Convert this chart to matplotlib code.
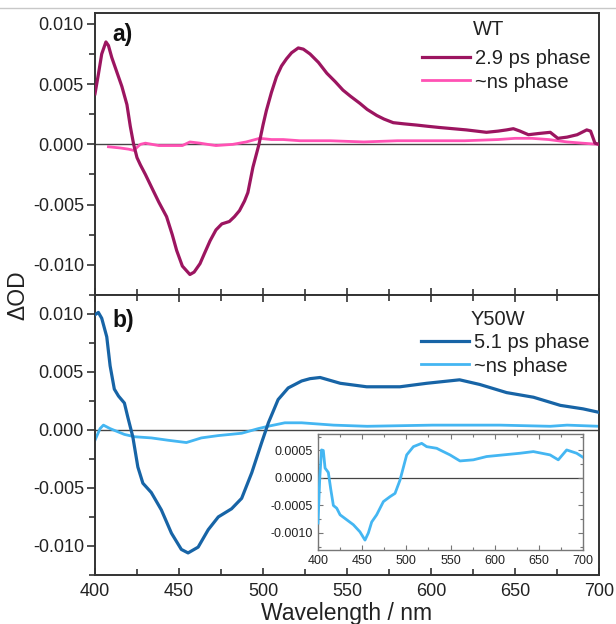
import matplotlib
matplotlib.use("Agg")
import matplotlib.pyplot as plt
from matplotlib.ticker import MultipleLocator
from matplotlib.lines import Line2D

plt.rcParams['font.family'] = ['Liberation Sans', 'DejaVu Sans']

# ---- data ----
wt_fast_x = [400, 402, 404, 406.5, 408, 410, 413, 416, 419, 421, 423, 425, 427, 430, 434.5, 438,
             442.6, 446, 448.6, 452, 456.5, 459, 462.5, 465, 468.5, 472, 475.5, 480, 483, 486,
             489, 491, 494, 497.6, 500, 502, 505, 508, 511, 514, 517, 521, 524, 528, 533, 538,
             543, 547.6, 552, 557.7, 562, 567.7, 572, 577.5, 584, 591.5, 598, 605, 613, 621,
             627, 633, 640, 645, 649, 653, 658, 664, 671, 675.5, 681, 687, 692.7, 695, 697.6, 700]
wt_fast_y = [0.0042, 0.0058, 0.0075, 0.0085, 0.0082, 0.0072, 0.0060, 0.0048, 0.0033, 0.0015,
             0.0, -0.0011, -0.0017, -0.0025, -0.0038, -0.0048, -0.0060, -0.0075, -0.0088,
             -0.0101, -0.0108, -0.0106, -0.0099, -0.0091, -0.0080, -0.0071, -0.0066, -0.0064,
             -0.0060, -0.0055, -0.0047, -0.0040, -0.0019, 0.0, 0.0016, 0.0028, 0.0043, 0.0056,
             0.0065, 0.0071, 0.0076, 0.0080, 0.0079, 0.0075, 0.0068, 0.0059, 0.0052, 0.0045,
             0.0040, 0.0034, 0.0029, 0.0024, 0.0021, 0.0018, 0.0017, 0.0016, 0.0015, 0.0014,
             0.0013, 0.0012, 0.0011, 0.0010, 0.0011, 0.0012, 0.0013, 0.0011, 0.0008, 0.0009,
             0.0010, 0.0005, 0.0006, 0.0008, 0.0012, 0.0011, 0.0001, 0.0]

wt_slow_x = [408, 415, 420, 423, 427, 430, 438, 445, 452, 456.5, 462.5, 467, 472, 482, 490,
             498, 505, 512, 522, 540, 560, 580, 600, 620, 640, 650, 660, 670, 681, 690, 700]
wt_slow_y = [-0.0002, -0.0003, -0.0004, -0.0005, 0.0, 0.0001, -0.0001, -0.0001, -0.0001,
             0.0002, 0.0001, 0.0, -0.0001, 0.0, 0.0002, 0.0005, 0.0004, 0.0004, 0.0003,
             0.0003, 0.0002, 0.0003, 0.0003, 0.0003, 0.0004, 0.0005, 0.0005, 0.0004, 0.0002,
             0.0001, 0.0]

y50w_fast_x = [400, 402, 404, 407, 409, 411.5, 414, 417.5, 419.5, 422.5, 425.5, 428.5, 433.5,
               439.5, 445.5, 451.4, 455.4, 461.4, 467.4, 473.4, 481.3, 487.3, 493.3, 499.2,
               503.2, 509, 515, 523, 528, 534, 546, 561.7, 581.5, 597.4, 617, 629, 645, 661,
               677, 690.5, 700]
y50w_fast_y = [0.0099, 0.0101, 0.0096, 0.0080, 0.0055, 0.0035, 0.0029, 0.0023, 0.0011,
               -0.0006, -0.0032, -0.0046, -0.0054, -0.0069, -0.0089, -0.0103, -0.0106,
               -0.0101, -0.0086, -0.0075, -0.0068, -0.0059, -0.0037, -0.0011, 0.0006, 0.0026,
               0.0036, 0.0042, 0.0044, 0.0045, 0.0040, 0.0037, 0.0037, 0.0040, 0.0043, 0.0039,
               0.0032, 0.0028, 0.0021, 0.0018, 0.0015]

y50w_slow_x = [400, 403, 405, 409, 417.5, 423.5, 433.5, 443.4, 454.4, 463.3, 473.4, 487.3,
               497.2, 503, 513, 523, 542, 562, 601, 641, 671, 681, 700]
y50w_slow_y = [-0.0009, 0.0001, 0.0004, 0.0001, -0.0004, -0.0006, -0.0007, -0.0009, -0.0011,
               -0.0007, -0.0005, -0.0003, 0.0001, 0.0003, 0.0006, 0.0006, 0.0004, 0.0003,
               0.0004, 0.0004, 0.0003, 0.0004, 0.0003]

inset_x = [400, 402, 404, 406, 408, 411.7, 414.4, 417.4, 421.2, 425, 432.5, 440, 447.5, 453.2,
           457, 460.8, 466.4, 474, 481.5, 487.2, 492.8, 500.4, 508, 517.4, 523, 534.4, 538,
           549.4, 560.7, 575.8, 590.9, 609.8, 628.7, 643.8, 662.7, 672, 681.5, 692.8, 699.6]
inset_y = [-0.00082, 0.0, 0.00051, 0.00050, 0.00018, 0.00010, -0.00020, -0.00050, -0.00055,
           -0.00067, -0.00076, -0.00085, -0.00098, -0.00113, -0.00100, -0.00080, -0.00067,
           -0.00043, -0.00034, -0.00028, -0.00004, 0.00042, 0.00057, 0.00063, 0.00057,
           0.00054, 0.00051, 0.00042, 0.00031, 0.00033, 0.00039, 0.00042, 0.00045, 0.00048,
           0.00042, 0.00033, 0.00051, 0.00045, 0.00038]

labels_wt = ['2.9 ps phase', '~ns phase']
labels_y50w = ['5.1 ps phase', '~ns phase']

# ---- colours ----
c_wt_fast = '#9c1560'
c_wt_slow = '#ff52b4'
c_y_fast = '#1764a6'
c_y_slow = '#44b6f2'
spine_c = '#333333'
text_c = '#222222'

W, H = 616, 624
fig = plt.figure(figsize=(W / 100, H / 100), dpi=100)

# thin grey border line at the top of the image
fig.add_artist(Line2D([0, 1], [1 - 8 / H, 1 - 8 / H], color='#c8c8c8', lw=1.0,
                      transform=fig.transFigure))

def px_axes(l, t, r, b):
    return fig.add_axes([l / W, 1 - b / H, (r - l) / W, (b - t) / H])

ax1 = px_axes(95, 13, 599, 295)
ax2 = px_axes(95, 295, 599, 575)

for ax in (ax1, ax2):
    for s in ax.spines.values():
        s.set_color(spine_c)
        s.set_linewidth(1.4)
    ax.set_xlim(400, 700)
    ax.xaxis.set_major_locator(MultipleLocator(50))
    ax.xaxis.set_minor_locator(MultipleLocator(25))
    ax.yaxis.set_major_locator(MultipleLocator(0.005))
    ax.yaxis.set_minor_locator(MultipleLocator(0.0025))
    ax.tick_params(axis='y', which='both', direction='out', left=True, right=False,
                   color=spine_c, width=1.2, labelsize=13, labelcolor=text_c, pad=2)
    ax.tick_params(axis='y', which='major', length=6)
    ax.tick_params(axis='y', which='minor', length=4)
    ax.axhline(0, color='#444444', lw=1.0, zorder=1)
    ax.yaxis.set_major_formatter(plt.FuncFormatter(lambda v, p: f'{v:.3f}'.replace('-0.000', '0.000')))

ax1.set_ylim(-0.0125, 0.0109)
ax2.set_ylim(-0.0125, 0.0116)

ax1.tick_params(axis='x', which='both', direction='in', bottom=True, top=False,
                labelbottom=False, color=spine_c, width=1.2)
ax2.tick_params(axis='x', which='both', direction='in', top=True, bottom=True,
                labeltop=False, labelbottom=True, labelsize=13, labelcolor=text_c,
                color=spine_c, width=1.2, pad=6)
for ax in (ax1, ax2):
    ax.tick_params(axis='x', which='major', length=5)
    ax.tick_params(axis='x', which='minor', length=4)

l1, = ax1.plot(wt_fast_x, wt_fast_y, color=c_wt_fast, lw=2.3, zorder=3)
l2, = ax1.plot(wt_slow_x, wt_slow_y, color=c_wt_slow, lw=2.0, zorder=2)
l3, = ax2.plot(y50w_fast_x, y50w_fast_y, color=c_y_fast, lw=2.3, zorder=3)
l4, = ax2.plot(y50w_slow_x, y50w_slow_y, color=c_y_slow, lw=2.0, zorder=2)

leg_kw = dict(frameon=False, fontsize=14.5, handlelength=2.4, handletextpad=0.25,
              labelspacing=0.22, borderaxespad=0, borderpad=0, labelcolor=text_c)
ax1.legend([l1, l2], labels_wt, loc='upper left', bbox_to_anchor=(0.649, 0.872), **leg_kw)
ax2.legend([l3, l4], labels_y50w, loc='upper left', bbox_to_anchor=(0.647, 0.864), **leg_kw)

ax1.text(0.749, 0.943, 'WT', transform=ax1.transAxes, fontsize=14.5, color=text_c,
         ha='left', va='center')
ax2.text(0.745, 0.913, 'Y50W', transform=ax2.transAxes, fontsize=14.5, color=text_c,
         ha='left', va='center')

ax1.text(0.035, 0.925, 'a)', transform=ax1.transAxes, fontsize=16.5, fontweight='bold',
         color='#111111', ha='left', va='center')
ax2.text(0.035, 0.91, 'b)', transform=ax2.transAxes, fontsize=16.5, fontweight='bold',
         color='#111111', ha='left', va='center')

ax2.set_xlabel('Wavelength / nm', fontsize=16.5, color=text_c, labelpad=1)
fig.text(18 / W, 1 - 295 / H, 'ΔOD', rotation=90, fontsize=16.5, color=text_c,
         ha='center', va='center')

# ---- inset ----
axi = px_axes(318, 434, 583, 550)
for s in axi.spines.values():
    s.set_color('#777777')
    s.set_linewidth(1.0)
axi.plot(inset_x, inset_y, color=c_y_slow, lw=2.0, zorder=3)
axi.axhline(0, color='#444444', lw=0.9, zorder=1)
axi.set_xlim(400, 700)
axi.set_ylim(-0.00131, 0.0008)
axi.xaxis.set_major_locator(MultipleLocator(50))
axi.xaxis.set_minor_locator(MultipleLocator(25))
axi.yaxis.set_major_locator(MultipleLocator(0.0005))
axi.yaxis.set_minor_locator(MultipleLocator(0.00025))
axi.yaxis.set_major_formatter(plt.FuncFormatter(lambda v, p: f'{v:.4f}'.replace('-0.0000', '0.0000')))
axi.tick_params(which='both', direction='in', top=True, right=True, color='#777777',
                width=0.8, labelsize=9, labelcolor=text_c, pad=3.5)
axi.tick_params(which='major', length=3.5)
axi.tick_params(which='minor', length=2)

fig.savefig('out.png', dpi=100)
